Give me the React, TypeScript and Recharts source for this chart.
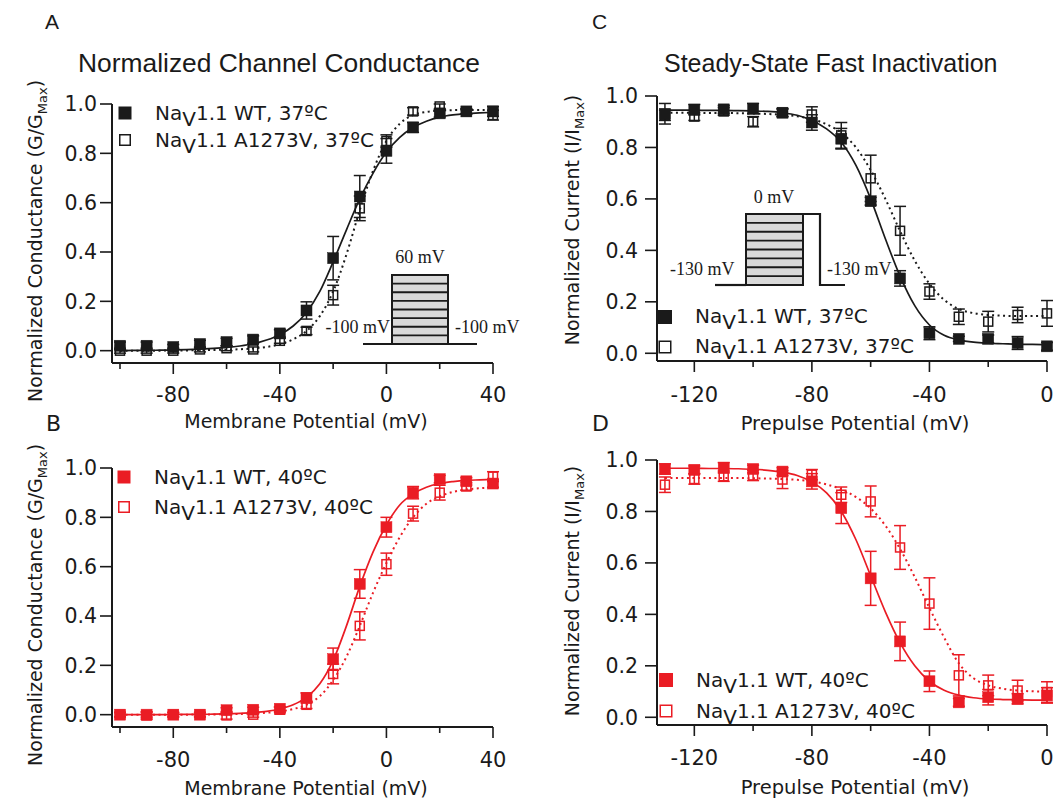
import React from 'react';
import { ComposedChart, Line, Scatter, XAxis, YAxis, ErrorBar } from 'recharts';

// ---------- data ----------
const ACT_V = [-100, -90, -80, -70, -60, -50, -40, -30, -20, -10, 0, 10, 20, 30, 40];
const INACT_V = [-130, -120, -110, -100, -90, -80, -70, -60, -50, -40, -30, -20, -10, 0];
const ACT_FIT_V = [-100, -95, -90, -85, -80, -75, -70, -65, -60, -55, -50, -45, -40, -35, -30, -25, -20, -15, -10, -5, 0, 5, 10, 15, 20, 25, 30, 35, 40];
const INACT_FIT_V = [-130, -125, -120, -115, -110, -105, -100, -95, -90, -85, -80, -75, -70, -65, -60, -55, -50, -45, -40, -35, -30, -25, -20, -15, -10, -5, 0];

// Panel A: conductance, 37 C
const A_WT_MEAN = [0.02, 0.02, 0.015, 0.027, 0.035, 0.045, 0.07, 0.163, 0.375, 0.625, 0.81, 0.905, 0.962, 0.97, 0.97];
const A_WT_SEM = [0.015, 0.015, 0.01, 0.015, 0.015, 0.015, 0.015, 0.035, 0.088, 0.085, 0.05, 0.02, 0.015, 0.01, 0.02];
const A_MUT_MEAN = [0.0, 0.0, 0.0, 0.005, 0.01, 0.005, 0.04, 0.08, 0.225, 0.577, 0.85, 0.97, 0.99, 0.97, 0.955];
const A_MUT_SEM = [0.01, 0.01, 0.01, 0.01, 0.01, 0.01, 0.01, 0.015, 0.04, 0.05, 0.025, 0.015, 0.01, 0.01, 0.02];
const A_WT_FIT = [0, 0.001, 0.001, 0.002, 0.003, 0.004, 0.006, 0.009, 0.013, 0.019, 0.028, 0.043, 0.065, 0.1, 0.155, 0.24, 0.36, 0.49, 0.615, 0.72, 0.805, 0.865, 0.905, 0.93, 0.947, 0.956, 0.961, 0.964, 0.966];
const A_MUT_FIT = [0, 0, 0, 0, 0.001, 0.001, 0.002, 0.003, 0.004, 0.006, 0.009, 0.015, 0.026, 0.046, 0.08, 0.14, 0.24, 0.39, 0.57, 0.73, 0.85, 0.92, 0.955, 0.968, 0.973, 0.975, 0.976, 0.976, 0.976];

// Panel B: conductance, 40 C
const B_WT_MEAN = [0.0, 0.0, 0.0, 0.0, 0.018, 0.02, 0.024, 0.068, 0.225, 0.53, 0.76, 0.9, 0.955, 0.946, 0.937];
const B_WT_SEM = [0.008, 0.01, 0.008, 0.008, 0.01, 0.01, 0.008, 0.02, 0.045, 0.058, 0.04, 0.025, 0.015, 0.015, 0.015];
const B_MUT_MEAN = [0.0, -0.003, 0.0, 0.0, -0.003, 0.0, 0.02, 0.04, 0.165, 0.36, 0.61, 0.815, 0.9, 0.925, 0.965];
const B_MUT_SEM = [0.01, 0.015, 0.01, 0.01, 0.015, 0.01, 0.01, 0.015, 0.04, 0.057, 0.045, 0.03, 0.03, 0.015, 0.02];
const B_WT_FIT = [0, 0, 0, 0, 0.001, 0.001, 0.001, 0.002, 0.003, 0.005, 0.008, 0.013, 0.023, 0.04, 0.07, 0.125, 0.22, 0.36, 0.52, 0.66, 0.77, 0.85, 0.895, 0.922, 0.937, 0.945, 0.95, 0.952, 0.954];
const B_MUT_FIT = [0, 0, 0, 0, 0, 0, 0.001, 0.001, 0.002, 0.003, 0.005, 0.008, 0.013, 0.023, 0.04, 0.075, 0.14, 0.235, 0.36, 0.495, 0.615, 0.72, 0.8, 0.855, 0.885, 0.903, 0.913, 0.918, 0.921];

// Panel C: inactivation, 37 C
const C_WT_MEAN = [0.931, 0.947, 0.948, 0.951, 0.935, 0.897, 0.834, 0.591, 0.291, 0.078, 0.056, 0.056, 0.04, 0.027];
const C_WT_SEM = [0.04, 0.02, 0.015, 0.02, 0.015, 0.03, 0.04, 0.015, 0.03, 0.025, 0.01, 0.015, 0.025, 0.015];
const C_MUT_MEAN = [0.925, 0.92, 0.94, 0.9, 0.935, 0.928, 0.847, 0.68, 0.476, 0.24, 0.142, 0.123, 0.149, 0.155];
const C_MUT_SEM = [0.02, 0.015, 0.015, 0.02, 0.015, 0.03, 0.05, 0.09, 0.095, 0.03, 0.03, 0.04, 0.03, 0.05];
const C_WT_FIT = [0.945, 0.945, 0.945, 0.944, 0.944, 0.943, 0.942, 0.94, 0.935, 0.925, 0.905, 0.872, 0.82, 0.73, 0.6, 0.445, 0.3, 0.185, 0.11, 0.07, 0.052, 0.043, 0.039, 0.037, 0.035, 0.035, 0.034];
const C_MUT_FIT = [0.935, 0.935, 0.935, 0.934, 0.934, 0.933, 0.932, 0.93, 0.927, 0.921, 0.91, 0.89, 0.857, 0.8, 0.712, 0.6, 0.475, 0.36, 0.27, 0.208, 0.172, 0.156, 0.149, 0.146, 0.145, 0.145, 0.145];

// Panel D: inactivation, 40 C
const D_WT_MEAN = [0.965, 0.962, 0.97, 0.965, 0.955, 0.917, 0.813, 0.54, 0.295, 0.14, 0.058, 0.078, 0.072, 0.085];
const D_WT_SEM = [0.02, 0.015, 0.02, 0.015, 0.015, 0.03, 0.06, 0.105, 0.075, 0.04, 0.015, 0.03, 0.02, 0.03];
const D_MUT_MEAN = [0.904, 0.926, 0.937, 0.94, 0.924, 0.943, 0.865, 0.839, 0.66, 0.442, 0.163, 0.124, 0.104, 0.098];
const D_MUT_SEM = [0.03, 0.02, 0.02, 0.02, 0.035, 0.02, 0.03, 0.06, 0.085, 0.1, 0.08, 0.04, 0.04, 0.04];
const D_WT_FIT = [0.968, 0.968, 0.968, 0.967, 0.967, 0.966, 0.964, 0.96, 0.953, 0.94, 0.915, 0.872, 0.8, 0.69, 0.55, 0.41, 0.29, 0.2, 0.14, 0.105, 0.086, 0.076, 0.071, 0.069, 0.068, 0.067, 0.067];
const D_MUT_FIT = [0.93, 0.93, 0.93, 0.93, 0.93, 0.93, 0.929, 0.928, 0.926, 0.923, 0.917, 0.905, 0.886, 0.856, 0.812, 0.745, 0.655, 0.545, 0.425, 0.31, 0.21, 0.152, 0.124, 0.111, 0.104, 0.101, 0.1];

const ACT_TICKS = [-100, -80, -60, -40, -20, 0, 20, 40];
const INACT_TICKS = [-120, -100, -80, -60, -40, -20, 0];
const Y_TICKS = [0, 0.2, 0.4, 0.6, 0.8, 1.0];

// ---------- styling ----------
const INK = '#1a1a1a';
const RED = '#ea1c24';
const SANS = "'DejaVu Sans', sans-serif";
const HELV = "'Liberation Sans', Arial, sans-serif";
const SERIF = "'Liberation Serif', serif";

const points = (v: number[], m: number[], e: number[]) => v.map((x, i) => ({ v: x, m: m[i], e: e[i] }));
const curve = (v: number[], f: number[]) => v.map((x, i) => ({ v: x, f: f[i] }));

type PanelProps = {
  left: number; top: number; width: number; height: number;
  marginTop: number; marginRight: number;
  yAxisWidth: number; xAxisHeight: number;
  xDomain: [number, number]; xTicks: number[]; yDomain: [number, number];
  yTickMargin: number; xTickLabelDy: number;
  color: string;
  wt: any[]; mut: any[]; wtFit: any[]; mutFit: any[];
};

function Panel(p: PanelProps) {
  const renderXTick = (props: any) => {
    const { x, y, payload } = props;
    const major = payload.value % 40 === 0;
    return (
      <g>
        <line x1={x} x2={x} y1={y} y2={y + (major ? 11 : 6)} stroke={INK} strokeWidth={1.6} />
        {major && (
          <text x={x} y={y + p.xTickLabelDy} textAnchor="middle" fontSize={21} fontFamily={SANS} fill={INK}>
            {payload.value}
          </text>
        )}
      </g>
    );
  };
  const filled = (props: any) => (
    <rect x={props.cx - 5.5} y={props.cy - 5.5} width={11} height={11} fill={p.color} stroke={p.color} strokeWidth={0.5} />
  );
  const open = (props: any) => (
    <rect x={props.cx - 4.5} y={props.cy - 4.5} width={9} height={9} fill="none" stroke={p.color} strokeWidth={1.5} />
  );
  return (
    <div style={{ position: 'absolute', left: p.left, top: p.top }}>
      <ComposedChart width={p.width} height={p.height} margin={{ top: p.marginTop, right: p.marginRight, bottom: 0, left: 0 }}>
        <XAxis
          type="number" dataKey="v" domain={p.xDomain} ticks={p.xTicks} interval={0}
          height={p.xAxisHeight} tick={renderXTick} tickLine={false} tickSize={0} tickMargin={0}
          axisLine={{ stroke: INK, strokeWidth: 2 }}
        />
        <YAxis
          type="number" domain={p.yDomain} ticks={Y_TICKS} interval={0} width={p.yAxisWidth}
          tickSize={12} tickMargin={p.yTickMargin}
          tick={{ fontSize: 20.5, fontFamily: SANS, fill: INK }}
          tickLine={{ stroke: INK, strokeWidth: 1.6 }}
          axisLine={{ stroke: INK, strokeWidth: 2 }}
          tickFormatter={(v: number) => v.toFixed(1)}
        />
        <Line data={p.wtFit} dataKey="f" type="monotone" stroke={p.color} strokeWidth={1.7} dot={false} isAnimationActive={false} />
        <Line data={p.mutFit} dataKey="f" type="monotone" stroke={p.color} strokeWidth={2} strokeDasharray="2 3.5" dot={false} isAnimationActive={false} />
        <Scatter data={p.mut} dataKey="m" shape={open} isAnimationActive={false}>
          <ErrorBar dataKey="e" direction="y" width={6} stroke={p.color} strokeWidth={1.5} />
        </Scatter>
        <Scatter data={p.wt} dataKey="m" shape={filled} isAnimationActive={false}>
          <ErrorBar dataKey="e" direction="y" width={6} stroke={p.color} strokeWidth={1.5} />
        </Scatter>
      </ComposedChart>
    </div>
  );
}

function LegendRow({ x, cy, base, filled, color, rest, size }: any) {
  return (
    <g>
      {filled ? (
        <rect x={x - size / 2} y={cy - size / 2} width={size} height={size} fill={color} />
      ) : (
        <rect x={x - size / 2 + 0.75} y={cy - size / 2 + 0.75} width={size - 1.5} height={size - 1.5} fill="none" stroke={color} strokeWidth={1.5} />
      )}
      <text x={x + 30} y={base} fontSize={20} fontFamily={SANS} fill={INK}>
        Na<tspan dy={6}>V</tspan><tspan dy={-6}>{rest}</tspan>
      </text>
    </g>
  );
}

function YTitle({ x, cy, main, sub }: any) {
  return (
    <text x={x} y={cy} transform={`rotate(-90 ${x} ${cy})`} textAnchor="middle" fontSize={19} fontFamily={SANS} fill={INK}>
      {main}<tspan dy={5} fontSize={13}>{sub}</tspan><tspan dy={-5}>)</tspan>
    </text>
  );
}

const STRIPES = [1, 2, 3, 4, 5, 6, 7];

function Overlay() {
  return (
    <svg width={1060} height={802} style={{ position: 'absolute', left: 0, top: 0, pointerEvents: 'none' }}>
      {/* panel letters and titles */}
      <text x={45} y={29} fontSize={21} fontFamily={HELV} fill={INK}>A</text>
      <text x={592} y={29} fontSize={21} fontFamily={HELV} fill={INK}>C</text>
      <text x={46} y={431} fontSize={22} fontFamily={SANS} fill={INK}>B</text>
      <text x={592} y={431} fontSize={22} fontFamily={SANS} fill={INK}>D</text>
      <text x={78} y={72} fontSize={26.4} fontFamily={HELV} fill={INK}>Normalized Channel Conductance</text>
      <text x={664} y={72} fontSize={25} fontFamily={HELV} fill={INK}>Steady-State Fast Inactivation</text>

      {/* axis titles */}
      <YTitle x={42} cy={241} main="Normalized Conductance (G/G" sub="Max" />
      <YTitle x={42} cy={605} main="Normalized Conductance (G/G" sub="Max" />
      <YTitle x={579} cy={220} main="Normalized Current (I/I" sub="Max" />
      <YTitle x={579} cy={591} main="Normalized Current (I/I" sub="Max" />
      <text x={306} y={428} textAnchor="middle" fontSize={19} fontFamily={SANS} fill={INK}>Membrane Potential (mV)</text>
      <text x={306} y={795} textAnchor="middle" fontSize={19} fontFamily={SANS} fill={INK}>Membrane Potential (mV)</text>
      <text x={855} y={430} textAnchor="middle" fontSize={19.5} fontFamily={SANS} fill={INK}>Prepulse Potential (mV)</text>
      <text x={855} y={794} textAnchor="middle" fontSize={19.5} fontFamily={SANS} fill={INK}>Prepulse Potential (mV)</text>

      {/* legends */}
      <LegendRow x={125} cy={113} base={120} filled color={INK} size={13} rest="1.1 WT, 37ºC" />
      <LegendRow x={125} cy={140} base={147} color={INK} size={12} rest="1.1 A1273V, 37ºC" />
      <LegendRow x={124} cy={477} base={484} filled color={RED} size={13} rest="1.1 WT, 40ºC" />
      <LegendRow x={124} cy={507} base={514} color={RED} size={12} rest="1.1 A1273V, 40ºC" />
      <LegendRow x={665} cy={317} base={323} filled color={INK} size={14} rest="1.1 WT, 37ºC" />
      <LegendRow x={665} cy={347} base={353} color={INK} size={13} rest="1.1 A1273V, 37ºC" />
      <LegendRow x={666} cy={680} base={687} filled color={RED} size={14} rest="1.1 WT, 40ºC" />
      <LegendRow x={666} cy={711} base={718} color={RED} size={13} rest="1.1 A1273V, 40ºC" />

      {/* protocol inset, panel A */}
      <rect x={392} y={275} width={56} height={69} fill="#d9d9d9" stroke={INK} strokeWidth={2} />
      {STRIPES.map((k) => (
        <line key={'a' + k} x1={392} x2={448} y1={275 + (k * 69) / 8} y2={275 + (k * 69) / 8} stroke={INK} strokeWidth={1.8} />
      ))}
      <line x1={363} x2={477} y1={344} y2={344} stroke={INK} strokeWidth={2.2} />
      <text x={420} y={263} textAnchor="middle" fontSize={18} fontFamily={SERIF} fill={INK}>60 mV</text>
      <text x={390} y={333} textAnchor="end" fontSize={18} fontFamily={SERIF} fill={INK}>-100 mV</text>
      <text x={455} y={333} fontSize={18} fontFamily={SERIF} fill={INK}>-100 mV</text>

      {/* protocol inset, panel C */}
      <rect x={746} y={214} width={57} height={71} fill="#d9d9d9" stroke={INK} strokeWidth={2} />
      {STRIPES.map((k) => (
        <line key={'c' + k} x1={746} x2={803} y1={214 + (k * 71) / 8} y2={214 + (k * 71) / 8} stroke={INK} strokeWidth={1.8} />
      ))}
      <polyline points="803,214 820,214 820,285 845,285" fill="none" stroke={INK} strokeWidth={2.2} />
      <line x1={715} x2={746} y1={285} y2={285} stroke={INK} strokeWidth={2.2} />
      <text x={774} y={203} textAnchor="middle" fontSize={18} fontFamily={SERIF} fill={INK}>0 mV</text>
      <text x={670} y={275} fontSize={18} fontFamily={SERIF} fill={INK}>-130 mV</text>
      <text x={827} y={275} fontSize={18} fontFamily={SERIF} fill={INK}>-130 mV</text>
    </svg>
  );
}

export default function App() {
  return (
    <div style={{ position: 'absolute', left: 0, top: 0, width: 1060, height: 802, background: '#fff', overflow: 'hidden' }}>
      <Panel
        left={0} top={0} width={530} height={440} marginTop={104} marginRight={37}
        yAxisWidth={112} xAxisHeight={77} xDomain={[-103, 40]} xTicks={ACT_TICKS} yDomain={[-0.05, 1]}
        yTickMargin={3} xTickLabelDy={39} color={INK}
        wt={points(ACT_V, A_WT_MEAN, A_WT_SEM)} mut={points(ACT_V, A_MUT_MEAN, A_MUT_SEM)}
        wtFit={curve(ACT_FIT_V, A_WT_FIT)} mutFit={curve(ACT_FIT_V, A_MUT_FIT)}
      />
      <Panel
        left={0} top={400} width={530} height={402} marginTop={68} marginRight={37}
        yAxisWidth={112} xAxisHeight={75} xDomain={[-103, 40]} xTicks={ACT_TICKS} yDomain={[-0.05, 1]}
        yTickMargin={3} xTickLabelDy={40} color={RED}
        wt={points(ACT_V, B_WT_MEAN, B_WT_SEM)} mut={points(ACT_V, B_MUT_MEAN, B_MUT_SEM)}
        wtFit={curve(ACT_FIT_V, B_WT_FIT)} mutFit={curve(ACT_FIT_V, B_MUT_FIT)}
      />
      <Panel
        left={530} top={0} width={530} height={440} marginTop={96} marginRight={13}
        yAxisWidth={127} xAxisHeight={79} xDomain={[-132.7, 0]} xTicks={INACT_TICKS} yDomain={[-0.03, 1]}
        yTickMargin={7} xTickLabelDy={41} color={INK}
        wt={points(INACT_V, C_WT_MEAN, C_WT_SEM)} mut={points(INACT_V, C_MUT_MEAN, C_MUT_SEM)}
        wtFit={curve(INACT_FIT_V, C_WT_FIT)} mutFit={curve(INACT_FIT_V, C_MUT_FIT)}
      />
      <Panel
        left={530} top={400} width={530} height={402} marginTop={60} marginRight={13}
        yAxisWidth={127} xAxisHeight={77} xDomain={[-132.7, 0]} xTicks={INACT_TICKS} yDomain={[-0.03, 1]}
        yTickMargin={7} xTickLabelDy={40} color={RED}
        wt={points(INACT_V, D_WT_MEAN, D_WT_SEM)} mut={points(INACT_V, D_MUT_MEAN, D_MUT_SEM)}
        wtFit={curve(INACT_FIT_V, D_WT_FIT)} mutFit={curve(INACT_FIT_V, D_MUT_FIT)}
      />
      <Overlay />
    </div>
  );
}
